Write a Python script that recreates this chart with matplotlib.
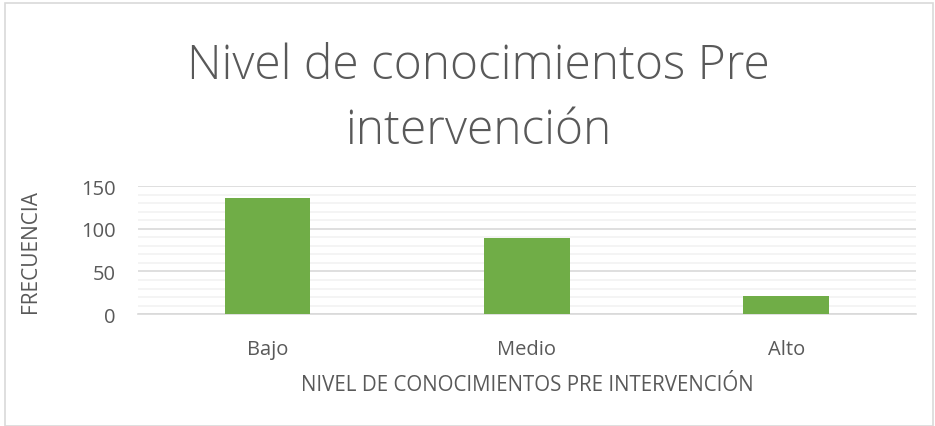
import matplotlib.pyplot as plt
from matplotlib.patches import Rectangle
from matplotlib.ticker import MultipleLocator

# data
categorias = ['Bajo', 'Medio', 'Alto']
frecuencia = [136, 89, 21]

plt.rcParams['font.family'] = ['Open Sans', 'DejaVu Sans']

fig = plt.figure(figsize=(9.35, 4.27), dpi=100)
ax = fig.add_axes([0.1476, 0.262, 0.832, 0.300])

ax.bar(categorias, frecuencia, width=0.33, color='#70AD47', zorder=3)

ax.set_ylim(0, 150)
ax.set_xlim(-0.5, 2.5)
ax.yaxis.set_major_locator(MultipleLocator(50))
ax.yaxis.set_minor_locator(MultipleLocator(10))
ax.grid(which='major', axis='y', color='#D9D9D9', linewidth=1.2, zorder=0)
ax.grid(which='minor', axis='y', color='#F2F2F2', linewidth=1.2, zorder=0)

for s in ['top', 'right', 'left']:
    ax.spines[s].set_visible(False)
ax.spines['bottom'].set_color('#D9D9D9')
ax.spines['bottom'].set_linewidth(1.2)
ax.tick_params(axis='both', which='both', length=0, labelsize=14.5, colors='#595959')
ax.tick_params(axis='x', pad=18)
ax.tick_params(axis='y', pad=16)

ax.set_xlabel('NIVEL DE CONOCIMIENTOS PRE INTERVENCIÓN', fontsize=14.8, color='#595959', labelpad=11)
ax.set_ylabel('FRECUENCIA', fontsize=15, color='#595959', labelpad=29)

fig.text(0.512, 0.768, 'Nivel de conocimientos Pre\nintervención', ha='center', va='center',
         fontsize=34.5, color='#595959', fontweight='light', linespacing=1.45)

# light border around the chart area
fig.patches.append(Rectangle((0.005, 0.0), 0.993, 0.99, transform=fig.transFigure,
                             fill=False, edgecolor='#D9D9D9', linewidth=1.2))

fig.savefig('out.png', dpi=100)
